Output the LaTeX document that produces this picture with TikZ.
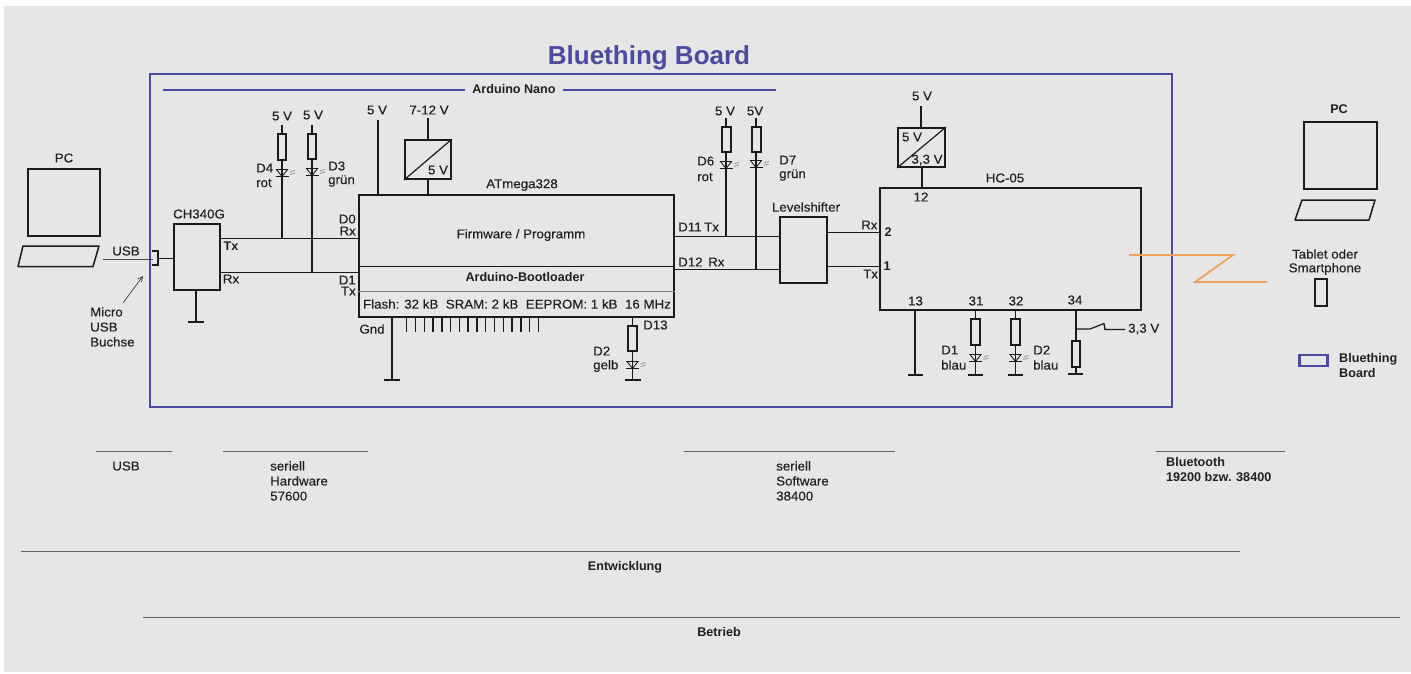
\documentclass[tikz,border=0pt]{standalone}
\usepackage{fontspec}
\setmainfont{Liberation Sans}
\newfontfamily\medf{Liberation Sans}[FakeBold=0.25,FakeStretch=1.04]
\usetikzlibrary{arrows.meta,calc}
\definecolor{bg}{HTML}{E6E6E6}
\definecolor{ink}{HTML}{1A1A1A}
\definecolor{txt}{HTML}{202020}
\definecolor{bluef}{HTML}{4A4AA2}
\definecolor{orangew}{HTML}{F0A35A}
\newcommand{\bx}[6][]{%
  \pgfmathsetmacro\bxw{#5-#3}\pgfmathsetmacro\bxh{#6-#4}%
  \node[heavy,rectangle,inner sep=0pt,minimum width=\bxw pt,minimum height=\bxh pt,#1] (#2) at ({(#3+#5)/2},{(#4+#6)/2}) {};}
\tikzset{
  x=1pt,y=-1pt,
  heavy/.style={draw=ink,line width=1.8pt},
  wire/.style={draw=ink,line width=1pt},
  pwr/.style={draw=ink,line width=1.7pt},
  lab/.style={inner sep=0pt,text=txt,font=\medf\fontsize{12.8}{15}\selectfont},
  blab/.style={lab,font=\fontsize{12.6}{15}\selectfont\bfseries},
  ll/.style={lab,anchor=west},
  rr/.style={lab,anchor=east},
  multi/.style={lab,anchor=north west,align=left,font=\medf\fontsize{12.8}{15}\selectfont},
  bar/.style={draw=ink,line width=1.8pt},
  thinline/.style={draw=ink!70,line width=1pt},
  ledpic/.pic={
    \draw[draw=ink,line width=0.9pt] (-5.5,-3.5) -- (5.5,-3.5) -- (0,3.5) -- cycle;
    \draw[draw=ink,line width=1.2pt] (-6.5,3.5) -- (6.5,3.5);
    \draw[draw=gray,line width=0.6pt] (8,-1) -- (13,-2.5) (8,1.5) -- (13,0);
  },
  pcmon/.style={heavy,line width=1.6pt},
  kbd/.style={draw=ink,line width=1.5pt,line join=round},
}
\begin{document}
\begin{tikzpicture}
\useasboundingbox (0,0) rectangle (1411,673);
\fill[white] (0,0) rectangle (1411,673);
\fill[bg] (4,6) rectangle (1411,672);

% title and board frame
\node[inner sep=0pt,text=bluef,font=\fontsize{26}{30}\selectfont\bfseries] (title) at (649,58) {Bluething Board};
\node[draw=bluef,line width=2pt,rectangle,inner sep=0pt,minimum width=1022pt,minimum height=333pt] (board) at (661,240.5) {};
\node[blab] (nano) at (514,89) {Arduino Nano};
\coordinate (nanoL) at (163,90);
\coordinate (nanoR) at (776,90);
\draw[draw=bluef,line width=2pt] (nanoL) -- (465,90);
\draw[draw=bluef,line width=2pt] (563,90) -- (nanoR);

% left PC
\node[lab] (pcL) at (64,158) {PC};
\bx[pcmon]{monL}{28}{169}{100}{236}
\draw[kbd] (23,246) -- (99,246) -- (93,266.5) -- (18,266.5) -- cycle;
\node[lab] (usbL) at (126,251) {USB};
\coordinate (kbdL) at (103,259);
\coordinate (sockL) at (153,259);
\draw[draw=ink!80,line width=1pt] (kbdL) -- (sockL);
\draw[draw=ink,line width=1.3pt] (152,251) -- (158,251) -- (158,265) -- (152,265);
\coordinate (sockR) at (158,258);
\node[multi] (micro) at (90,307) {Micro\\USB\\Buchse};
\draw[draw=ink!85,line width=0.7pt,-{Straight Barb[length=5pt,width=5pt]}] (123,303) -- (143,276);

% CH340G
\bx{ch}{174}{224}{220}{290}
\node[lab] (chl) at (199,214) {CH340G};
\draw[wire] (sockR) -- (ch.west|-sockR);
\coordinate (chg) at (196,322);
\draw[pwr] (ch.south-|chg) -- (chg);
\draw[bar] (188,322) -- (204,322);
\node[blab] (ctx) at (231,246) {Tx};
\node[lab] (crx) at (231,279) {Rx};

% ATmega328
\bx{at}{359}{195}{674}{317}
\draw[draw=ink,line width=0.8pt] (at.west|-0,266) -- (at.east|-0,266);
\draw[draw=gray,line width=0.8pt] (at.west|-0,291) -- (at.east|-0,291);
\node[lab] (atl) at (522,185) {ATmega328};
\node[lab] (fw) at (521,235) {Firmware / Programm};
\node[blab] (bl) at (525,277) {Arduino-Bootloader};
\node[lab] (fl) at (517,304) {Flash: 32 kB\hspace{7.5pt}SRAM: 2 kB\hspace{7.5pt}EEPROM: 1 kB\hspace{7.5pt}16 MHz};

% serial left
\coordinate (jtx) at (282,238);
\coordinate (jrx) at (312,272);
\draw[wire] (ch.east|-jtx) -- (at.west|-jtx);
\draw[wire] (ch.east|-jrx) -- (at.west|-jrx);
\node[rr] (d0) at (356,219) {D0};
\node[rr] (d0r) at (356,231) {Rx};
\node[rr] (d1) at (356,280) {D1};
\node[rr] (d1t) at (356,291) {Tx};

% D4 / D3
\node[lab] (v4) at (282,116) {5 V};
\node[lab] (v3) at (313,115) {5 V};
\bx{r4}{278}{134}{286}{160}
\bx{r3}{308}{134}{316}{159}
\draw[pwr] (282,125) -- (r4.north);
\draw[pwr] (312,125) -- (r3.north);
\draw[pwr] (r4.south) -- (jtx);
\draw[pwr] (r3.south) -- (jrx);
\pic at (282,173) {ledpic};
\pic at (312,172) {ledpic};
\node[ll] (d4) at (256,168) {D4};
\node[ll] (d4c) at (256,183) {rot};
\node[ll] (d3) at (328,166) {D3};
\node[ll] (d3c) at (328,181) {grün};

% supplies ATmega
\node[lab] (v5a) at (377,110) {5 V};
\coordinate (v5t) at (378,120);
\draw[pwr] (v5t) -- (at.north-|v5t);
\node[lab] (v712) at (429,110) {7-12 V};
\bx{reg}{405}{140}{451}{179}
\coordinate (v712t) at (428,118);
\draw[pwr] (v712t) -- (reg.north);
\draw[pwr] (reg.south) -- (at.north-|reg.south);
\draw[draw=ink,line width=1.2pt] (reg.south west) -- (reg.north east);
\node[lab] (reg5) at (438,170) {5 V};

% Gnd and pins
\node[lab] (gnd) at (372,329) {Gnd};
\coordinate (gg) at (392,380);
\draw[pwr] (at.south-|gg) -- (gg);
\draw[bar] (384,380) -- (400,380);
\foreach \i in {0,...,15} {
  \draw[draw=ink,line width=1.5pt] ({406.7+8.78*\i},317) -- ({406.7+8.78*\i},332);
}

% D13
\bx{r13}{628}{326}{637}{351}
\draw[pwr] (at.south-|r13.north) -- (r13.north);
\coordinate (g13) at (632.5,380);
\draw[pwr] (r13.south) -- (g13);
\draw[bar] (624.5,380) -- (640.5,380);
\pic at (632.5,365) {ledpic};
\node[ll] (d13) at (643,325) {D13};
\node[ll] (d2g) at (593,351) {D2};
\node[ll] (d2gc) at (593,366) {gelb};

% Levelshifter
\bx{ls}{780}{217}{827}{283}
\node[lab] (lsl) at (806,207) {Levelshifter};
\coordinate (j11) at (726,236);
\coordinate (j12) at (756,269);
\draw[wire] (at.east|-j11) -- (ls.west|-j11);
\draw[wire] (at.east|-j12) -- (ls.west|-j12);
\node[ll] (d11) at (678,227) {D11};
\node[ll] (d11t) at (704,227) {Tx};
\node[ll] (d12) at (678,262) {D12};
\node[ll] (d12r) at (708,262) {Rx};

% D6 / D7
\node[lab] (v6) at (725,111) {5 V};
\node[lab] (v7) at (755,111) {5V};
\bx{r6}{722}{127}{731}{152}
\bx{r7}{752}{127}{761}{152}
\draw[pwr] (726,118) -- (r6.north-|726,0);
\draw[pwr] (756,118) -- (r7.north-|756,0);
\draw[pwr] (r6.south-|726,0) -- (j11);
\draw[pwr] (r7.south-|756,0) -- (j12);
\pic at (726,165) {ledpic};
\pic at (756,164) {ledpic};
\node[ll] (d6) at (697,161) {D6};
\node[ll] (d6c) at (697,177) {rot};
\node[ll] (d7) at (779,160) {D7};
\node[ll] (d7c) at (779,175) {grün};

% HC-05
\bx{hc}{880}{188}{1141}{310}
\node[lab] (hcl) at (1005,178) {HC-05};
\coordinate (p2) at (880,232);
\coordinate (p1) at (880,266);
\draw[wire] (ls.east|-p2) -- (p2);
\draw[wire] (ls.east|-p1) -- (p1);
\node[ll] (lrx) at (861,225) {Rx};
\node[ll] (ltx) at (863,274) {Tx};
\node[blab] (n2) at (888,232) {2};
\node[blab] (n1) at (887,266) {1};
\node[lab] (n12) at (921,197) {12};
\bx{rg}{898}{128}{945}{167}
\draw[draw=ink,line width=1.2pt] (rg.south west) -- (rg.north east);
\node[lab] (v5h) at (922,96) {5 V};
\coordinate (v5ht) at (921,106);
\draw[pwr] (v5ht) -- (rg.north-|v5ht);
\draw[pwr] (rg.south-|922,0) -- (hc.north-|922,0);
\node[lab] (rg5) at (912,137) {5 V};
\node[lab] (rg33) at (927,160) {3,3 V};
\node[lab] (n13) at (915.5,301) {13};
\node[lab] (n31) at (976,301) {31};
\node[lab] (n32) at (1016,301) {32};
\node[lab] (n34) at (1075,300) {34};
\coordinate (g13h) at (915,375);
\draw[pwr] (hc.south-|g13h) -- (g13h);
\draw[bar] (908,375) -- (923,375);
\bx{r31}{971}{319}{980}{345}
\bx{r32}{1011}{319}{1020}{345}
\draw[pwr] (hc.south-|r31.north) -- (r31.north);
\draw[pwr] (hc.south-|r32.north) -- (r32.north);
\draw[pwr] (r31.south) -- (975.5,375);
\draw[pwr] (r32.south) -- (1015.5,375);
\draw[bar] (968,375) -- (983,375);
\draw[bar] (1008,375) -- (1023,375);
\pic at (975.5,358) {ledpic};
\pic at (1015.5,358) {ledpic};
\node[ll] (d1b) at (941,350) {D1};
\node[ll] (d1bc) at (941,365) {blau};
\node[ll] (d2b) at (1033,350) {D2};
\node[ll] (d2bc) at (1033,365) {blau};
\bx{r34}{1072}{341}{1080}{367}
\draw[pwr] (hc.south-|r34.north) -- (r34.north);
\draw[pwr] (r34.south) -- (1076,374);
\draw[bar] (1068,374) -- (1083,374);
\node[ll] (v33) at (1128,329) {3,3 V};
\draw[draw=ink,line width=1.2pt] (1076,329) -- (1090,329) -- (1104,323.5);
\draw[draw=ink,line width=1.4pt] (1104,323.5) -- (1105,329.5) -- (1125,329.5);

% radio link
\draw[draw=orangew,line width=1.8pt,line join=miter] (1129,255) -- (1233,255) -- (1195,282) -- (1267,282);

% right side
\node[blab] (pcR) at (1339,109) {PC};
\bx[pcmon]{monR}{1304}{122}{1377}{189}
\draw[kbd] (1302,200) -- (1375,200) -- (1369,220) -- (1295,220) -- cycle;
\node[lab] (tab) at (1325,254) {Tablet oder};
\node[lab] (smart) at (1325,269) {Smartphone};
\bx[line width=1.4pt]{ph}{1315}{279}{1327}{306}
\node[draw=bluef,line width=2.2pt,rectangle,inner sep=0pt,minimum width=28pt,minimum height=11pt] (leg) at (1313.5,360.5) {};
\node[multi,font=\fontsize{12.6}{15}\selectfont\bfseries] (legt) at (1339,353) {Bluething\\Board};

% bottom
\foreach \a/\b/\c in {96/172/451,223/368/451,684/895/451,1156/1285/451,21/1240/551,143/1400/617}
  \draw[thinline] (\a,\c) -- (\b,\c);
\node[lab] (busb) at (126,466) {USB};
\node[multi] (bhw) at (270,461) {seriell\\Hardware\\57600};
\node[multi] (bsw) at (776,461) {seriell\\Software\\38400};
\node[multi,font=\fontsize{12.6}{15}\selectfont\bfseries] (bbt) at (1166,457) {Bluetooth\\19200 bzw. 38400};
\node[blab] (ent) at (625,567) {Entwicklung};
\node[blab] (bet) at (719,632) {Betrieb};
\end{tikzpicture}
\end{document}
